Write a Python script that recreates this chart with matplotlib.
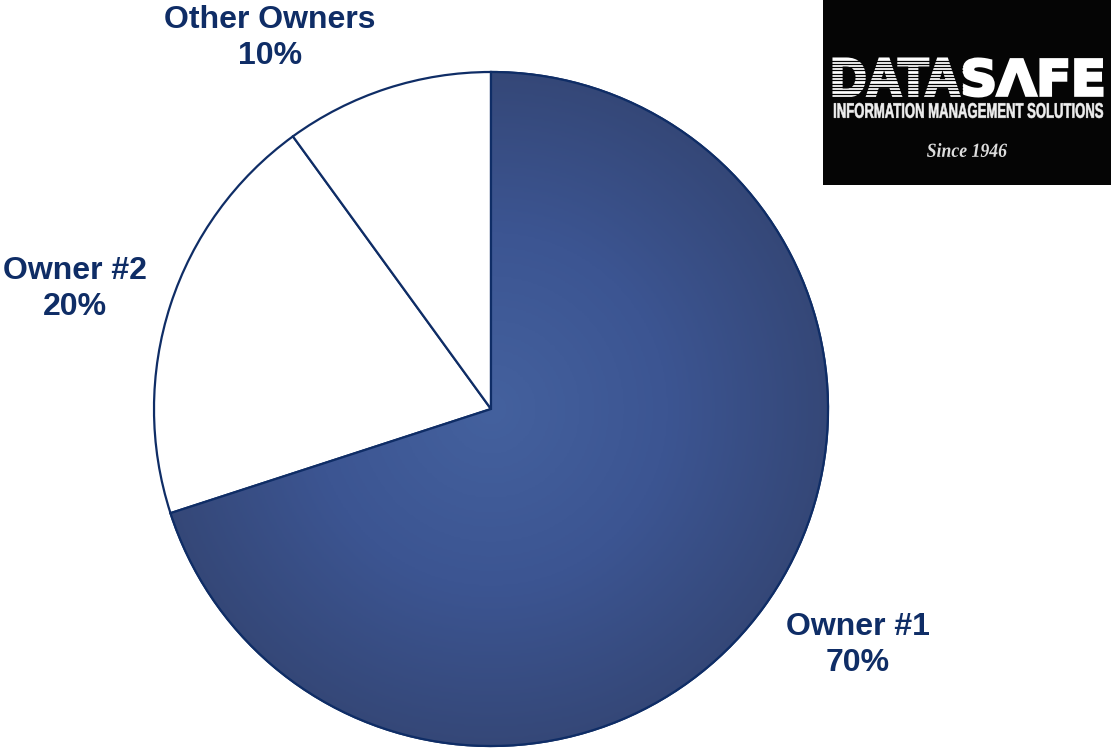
import numpy as np
import matplotlib.pyplot as plt
from matplotlib.colors import LinearSegmentedColormap
from matplotlib.textpath import TextPath
from matplotlib.font_manager import FontProperties
from matplotlib.patches import PathPatch, Wedge, Rectangle
from matplotlib.transforms import Affine2D

# data
labels = ['Owner #1', 'Owner #2', 'Other Owners']
shares = [70, 20, 10]
wedge_colors = ['#3d5590', 'white', 'white']

navy = '#0f2d66'
W, H = 1111, 748
cx, cy, r = 491, H - 409, 337

fig = plt.figure(figsize=(W / 100, H / 100), dpi=100)
ax = fig.add_axes([0, 0, 1, 1])

wedges, _ = ax.pie(shares, colors=wedge_colors, startangle=90, counterclock=False,
                   center=(cx, cy), radius=r, frame=True,
                   wedgeprops=dict(edgecolor=navy, linewidth=1.6))
ax.set_xlim(0, W)
ax.set_ylim(0, H)
ax.set_aspect('equal')
ax.axis('off')

# radial gradient on the big slice
yy, xx = np.mgrid[cy - r:cy + r:400j, cx - r:cx + r:400j]
dist = np.hypot(xx - cx, yy - cy) / r
cmap = LinearSegmentedColormap.from_list('blu', ['#44619e', '#3c5592', '#344675'])
img = ax.imshow(dist, cmap=cmap, vmin=0, vmax=1.05, origin='lower',
                extent=(cx - r, cx + r, cy - r, cy + r), zorder=wedges[0].get_zorder() + 0.1)
img.set_clip_path(wedges[0])
wedges[0].set_facecolor('none')
ax.add_patch(Wedge((cx, cy), r, wedges[0].theta1, wedges[0].theta2,
                   facecolor='none', edgecolor=navy, linewidth=1.6,
                   zorder=img.get_zorder() + 0.1))

# labels
label_pos = [(858, 645), (75, 289), (270, 38)]
for lab, val, (px, py) in zip(labels, shares, label_pos):
    ax.text(px, H - py, f'{lab}\n{val}%', ha='center', va='center', fontsize=23,
            fontweight='bold', color=navy, family='Liberation Sans', linespacing=1.25)


def boxed_text(s, x0, y0, x1, y1, prop, color='white', z=6, lw=0):
    # draw text squeezed into a pixel box (top-left origin)
    tp = TextPath((0, 0), s, size=50, prop=prop)
    ext = tp.get_extents()
    sx = (x1 - x0) / ext.width
    sy = (y1 - y0) / ext.height
    tr = Affine2D().translate(-ext.x0, -ext.y0).scale(sx, sy).translate(x0, H - y1)
    ax.add_patch(PathPatch(tr.transform_path(tp), facecolor=color, edgecolor=color,
                           linewidth=lw, zorder=z))


# logo block
ax.add_patch(Rectangle((823, H - 185), W - 823, 185, facecolor='#050505',
                       edgecolor='none', zorder=5))
heavy = FontProperties(family='Liberation Sans', weight='bold')
boxed_text('DATA', 834, 59, 959, 96, heavy, lw=2.2)
boxed_text('SΛFE', 964, 59, 1102, 96, FontProperties(family='DejaVu Sans', weight='bold'), lw=2.2)
# stripes over "DATA"
for sy in np.arange(60.5, 97, 3.3):
    ax.plot([830, 962], [H - sy, H - sy], color='#050505', linewidth=0.9, zorder=7)
boxed_text('INFORMATION MANAGEMENT SOLUTIONS', 834, 103, 1103, 118, heavy,
           color='#eeeeee', lw=0.4)
boxed_text('Since 1946', 927, 143, 1007, 157,
           FontProperties(family='Liberation Serif', style='italic', weight='bold'),
           color='#dddddd')

fig.savefig('out.png', dpi=100, facecolor='white')
